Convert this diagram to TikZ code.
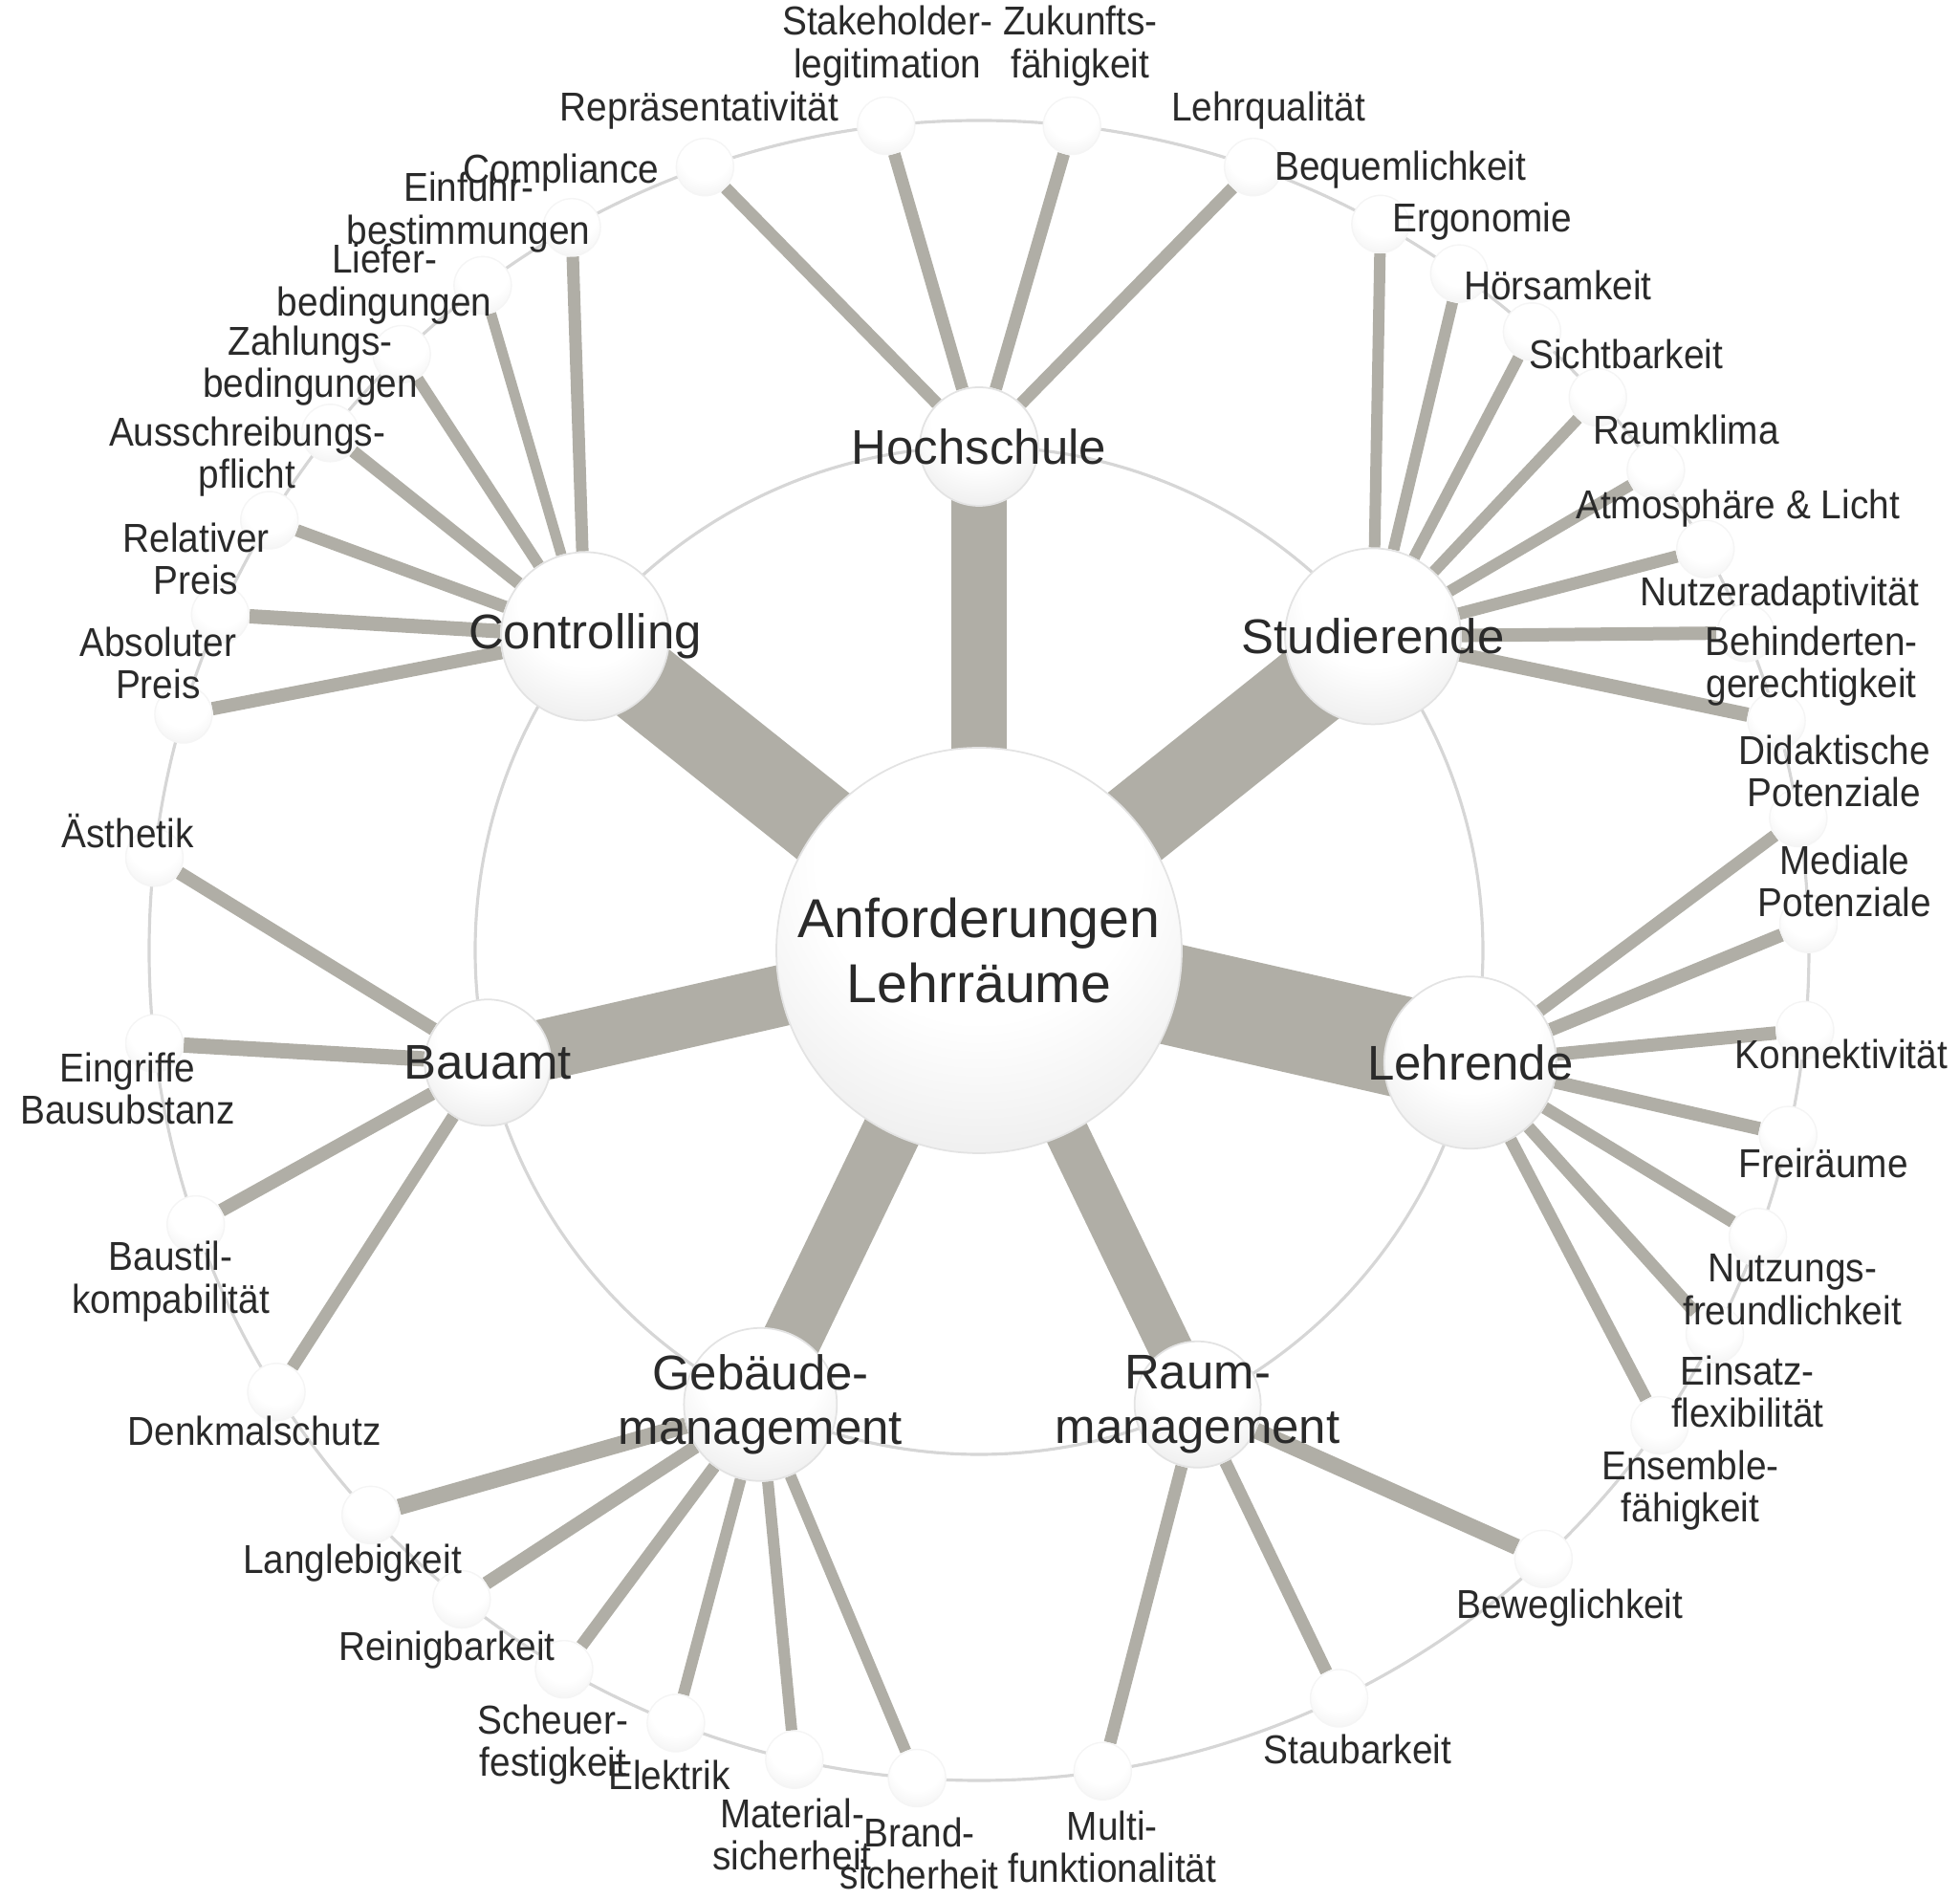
\documentclass[tikz,border=0pt]{standalone}
\usepackage{fontspec}
\setmainfont{Liberation Sans}
\newfontfamily\leaffont[FakeStretch=0.92]{Liberation Sans}
\usepackage{tikz}
\usetikzlibrary{positioning}

\definecolor{spokegray}{RGB}{176,174,166}
\definecolor{ringgray}{RGB}{214,214,214}
\definecolor{inkgray}{RGB}{42,42,42}

% soft white ball, light rim at the bottom
\pgfdeclareradialshading{orb}{\pgfpoint{0bp}{14bp}}{%
  color(0bp)=(white); color(20bp)=(white); color(50bp)=(black!13); color(100bp)=(black!13)}
\pgfdeclareradialshading{orblight}{\pgfpoint{0bp}{14bp}}{%
  color(0bp)=(white); color(22bp)=(white); color(50bp)=(black!9); color(100bp)=(black!9)}

\pgfdeclarelayer{background}
\pgfdeclarelayer{balls}
\pgfsetlayers{background,balls,main}

\begin{document}
\begin{tikzpicture}[
    orbnode/.style={circle,shading=orb,draw=black!11,line width=0.5pt,inner sep=0pt},
    core/.style={orbnode,minimum size=4.24cm,text=inkgray,align=center,
                 font=\fontsize{16.3}{19.5}\selectfont},
    hub/.style={orbnode},
    leaf/.style={circle,shading=orblight,draw=black!4,line width=0.4pt,inner sep=0pt,
                 minimum size=0.6cm},
    hubtext/.style={text=inkgray,align=center,inner sep=0pt,
                    font=\fontsize{14.5}{16}\selectfont},
    leaftext/.style={text=inkgray,align=center,inner sep=0pt,
                     font=\leaffont\fontsize{12}{12.6}\selectfont},
    ring/.style={draw=ringgray,line width=0.9pt},
    bar/.style={draw=spokegray,line cap=butt},
    spoke/.style={draw=spokegray}
]

\useasboundingbox (-10.24,-9.93) rectangle (10.26,9.94);

% Centre
\begin{pgfonlayer}{balls}
    \node[core] (ctr) at (0,0) {Anforderungen\\Lehrräume};
\end{pgfonlayer}

% Rings through hubs and leaves
\begin{pgfonlayer}{background}
    \draw[ring] (ctr.center) circle (5.27);
    \draw[ring] (ctr.center) circle (8.68);
\end{pgfonlayer}

% Hubs: name/angle/radius/bar width/text
\foreach \hub/\ang/\rad/\bw/\txt in {
    hochschule/90/0.62/0.58/Hochschule,
    studierende/38.571/0.92/0.90/Studierende,
    lehrende/-12.857/0.90/1.06/Lehrende,
    raum/-64.286/0.66/0.46/{Raum-\\management},
    gebaeude/-115.714/0.80/0.62/{Gebäude-\\management},
    bauamt/-167.143/0.66/0.64/Bauamt,
    controlling/141.429/0.88/0.88/Controlling} {
    \pgfmathsetmacro{\dia}{2*\rad}
    \begin{pgfonlayer}{balls}
        \node[hub,minimum size=\dia cm] (\hub) at (\ang:5.27) {};
    \end{pgfonlayer}
    \node[hubtext] (\hub-t) at (\hub) {\txt};
    \begin{pgfonlayer}{background}
        \draw[bar,line width=\bw cm] (ctr.center) -- (\hub.center);
    \end{pgfonlayer}
}

% Leaves: spread over the hub's sector on the outer ring
\foreach \hub/\ang/\n/\leaflist in {
    hochschule/90/4/{Repräsentativität/0.13, {Stakeholder-\\legitimation}/0.13,
        {Zukunfts-\\fähigkeit}/0.13, Lehrqualität/0.13},
    studierende/38.571/8/{Bequemlichkeit/0.12, Ergonomie/0.12, Hörsamkeit/0.12,
        Sichtbarkeit/0.12, Raumklima/0.12, Atmosphäre \& Licht/0.13,
        Nutzeradaptivität/0.14, {Behinderten-\\gerechtigkeit}/0.15},
    lehrende/-12.857/7/{{Didaktische\\Potenziale}/0.13, {Mediale\\Potenziale}/0.14,
        Konnektivität/0.14, Freiräume/0.14, {Nutzungs-\\freundlichkeit}/0.13,
        {Einsatz-\\flexibilität}/0.13, {Ensemble-\\fähigkeit}/0.13},
    raum/-64.286/3/{Beweglichkeit/0.17, Staubarkeit/0.13, {Multi-\\funktionalität}/0.13},
    gebaeude/-115.714/6/{{Brand-\\sicherheit}/0.12, {Material-\\sicherheit}/0.12,
        Elektrik/0.12, {Scheuer-\\festigkeit}/0.13, Reinigbarkeit/0.14, Langlebigkeit/0.17},
    bauamt/-167.143/4/{Denkmalschutz/0.13, {Baustil-\\kompabilität}/0.14,
        {Eingriffe\\Bausubstanz}/0.16, Ästhetik/0.14},
    controlling/141.429/7/{{Absoluter\\Preis}/0.14, {Relativer\\Preis}/0.15,
        {Ausschreibungs-\\pflicht}/0.13, {Zahlungs-\\bedingungen}/0.13,
        {Liefer-\\bedingungen}/0.12, {Einfuhr-\\bestimmungen}/0.11, Compliance/0.13}} {
    \foreach \txt/\w [count=\k from 0] in \leaflist {
        \pgfmathsetmacro{\lang}{\ang+25.714-51.429*(\k+0.5)/\n}
        \pgfmathsetmacro{\dx}{0.05+0.33*cos(\lang)}
        \pgfmathsetmacro{\dy}{0.05+0.36*abs(sin(\lang))}
        \pgfmathtruncatemacro{\up}{sin(\lang)>0}
        \begin{pgfonlayer}{balls}
            \node[leaf] (\hub-\k) at (\lang:8.68) {};
        \end{pgfonlayer}
        \ifnum\up=1
            \node[leaftext,anchor=south] (\hub-\k-t) at ([shift={(\dx,\dy)}]\hub-\k.center) {\txt};
        \else
            \node[leaftext,anchor=north] (\hub-\k-t) at ([shift={(\dx,-\dy)}]\hub-\k.center) {\txt};
        \fi
        \begin{pgfonlayer}{background}
            \draw[spoke,line width=\w cm] (\hub) -- (\hub-\k);
        \end{pgfonlayer}
    }
}

\end{tikzpicture}
\end{document}
